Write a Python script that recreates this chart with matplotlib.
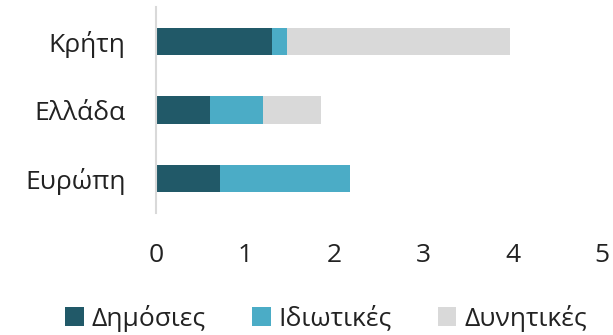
import numpy as np
import matplotlib.pyplot as plt

plt.rcParams['font.family'] = ['Open Sans', 'DejaVu Sans']

regions = ['Κρήτη', 'Ελλάδα', 'Ευρώπη']
public = [1.30, 0.60, 0.72]
private = [0.17, 0.60, 1.46]
potential = [2.50, 0.65, 0.0]
series_names = ['Δημόσιες', 'Ιδιωτικές', 'Δυνητικές']
colors = ['#215968', '#4BACC6', '#D9D9D9']

fig = plt.figure(figsize=(6.13, 3.35), dpi=100)
ax = fig.add_axes([0.2545, 0.365, 0.7275, 0.613])

y = np.arange(len(regions))
left = np.zeros(len(regions))
for vals, name, c in zip([public, private, potential], series_names, colors):
    ax.barh(y, vals, left=left, height=0.4, color=c, label=name)
    left += np.array(vals)

ax.set_ylim(2.5, -0.5)
ax.set_xlim(0, 5)
ax.set_xticks(range(6))
ax.set_yticks(y)
ax.set_yticklabels(regions)
ax.tick_params(axis='both', length=0, labelsize=19, colors='#222222')
ax.tick_params(axis='x', pad=22)
ax.tick_params(axis='y', pad=22)

for s in ['top', 'right', 'bottom']:
    ax.spines[s].set_visible(False)
ax.spines['left'].set_color('#D9D9D9')
ax.spines['left'].set_linewidth(1.5)

fig.legend(loc='center', bbox_to_anchor=(0.532, 0.05), ncol=3, frameon=False,
           fontsize=19, handlelength=0.7, handleheight=0.7, handletextpad=0.3,
           columnspacing=1.75, labelcolor='#222222')

fig.savefig('out.png', dpi=100)
